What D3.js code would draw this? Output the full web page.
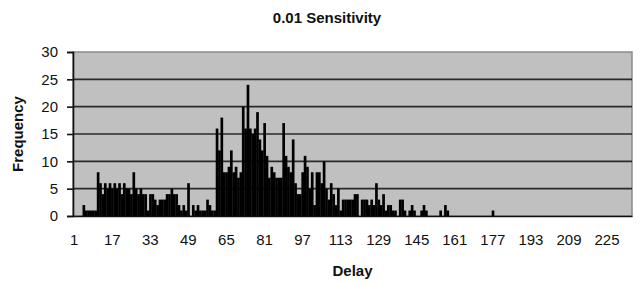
<!DOCTYPE html>
<html>
<head>
<meta charset="utf-8">
<script src="https://cdn.jsdelivr.net/npm/d3@7"></script>
<style>
  body { margin: 0; background: #fff; }
  text { font-family: "Liberation Sans", Arial, sans-serif; }
</style>
</head>
<body>
<div id="chart"></div>
<script>
var title = "0.01 Sensitivity"
var xTitle = "Delay"
var yTitle = "Frequency"
// delay buckets 1..235
var delays = d3.range(1, 236)
var frequency = [
  0, 0, 0, 0, 2, 1, 1, 1, 1, 1,
  8, 6, 4, 6, 5, 6, 5, 6, 5, 6,
  4, 6, 5, 5, 4, 8, 5, 4, 5, 4,
  4, 1, 4, 4, 3, 2, 3, 3, 3, 4,
  4, 5, 4, 4, 2, 1, 2, 1, 6, 0,
  2, 1, 2, 1, 1, 1, 3, 2, 1, 1,
  16, 12, 18, 8, 8, 9, 12, 8, 9, 7,
  8, 20, 16, 24, 16, 15, 16, 19, 14, 12,
  17, 11, 7, 9, 8, 7, 7, 7, 17, 11,
  9, 8, 14, 6, 4, 4, 8, 11, 9, 5,
  8, 2, 8, 8, 6, 10, 5, 3, 6, 4,
  2, 5, 1, 3, 3, 3, 3, 3, 4, 4,
  0, 3, 3, 3, 2, 3, 2, 6, 3, 2,
  4, 1, 2, 2, 1, 1, 0, 3, 3, 1,
  0, 1, 2, 1, 0, 0, 1, 2, 1, 0,
  0, 0, 0, 0, 1, 0, 2, 1, 0, 0,
  0, 0, 0, 0, 0, 0, 0, 0, 0, 0,
  0, 0, 0, 0, 0, 0, 1, 0, 0, 0,
  0, 0, 0, 0, 0, 0, 0, 0, 0, 0,
  0, 0, 0, 0, 0, 0, 0, 0, 0, 0,
  0, 0, 0, 0, 0, 0, 0, 0, 0, 0,
  0, 0, 0, 0, 0, 0, 0, 0, 0, 0,
  0, 0, 0, 0, 0, 0, 0, 0, 0, 0,
  0, 0, 0, 0, 0
]
var xTickLabels = [1, 17, 33, 49, 65, 81, 97, 113, 129, 145, 161, 177, 193, 209, 225]
var yTicks = [0, 5, 10, 15, 20, 25, 30]

var w = 643, h = 285
var margin = {top: 52, right: 11, bottom: 69, left: 73}
var width = w - margin.left - margin.right,
  height = h - margin.top - margin.bottom

var svg = d3.select("#chart").append("svg")
  .attr("width", w)
  .attr("height", h)

var g = svg.append("g")
  .attr("transform", "translate(" + margin.left + "," + margin.top + ")")

var xScale = d3.scaleBand()
  .domain(delays)
  .range([0, width])
  .padding(0)

var yScale = d3.scaleLinear()
  .domain([0, 30])
  .range([height, 0])

// plot area
g.append("rect")
  .attr("width", width)
  .attr("height", height)
  .attr("fill", "#c0c0c0")
  .attr("stroke", "#8a8a8a")
  .attr("stroke-width", 1.5)

// gridlines
g.selectAll(".grid")
  .data(yTicks.filter(function(d) { return d > 0 && d < 30 }))
  .enter().append("line")
  .attr("class", "grid")
  .attr("x1", 0)
  .attr("x2", width)
  .attr("y1", function(d) { return yScale(d) })
  .attr("y2", function(d) { return yScale(d) })
  .attr("stroke", "#2a2a2a")
  .attr("stroke-width", 1.6)

// bars
g.selectAll(".bar")
  .data(frequency)
  .enter().append("rect")
  .attr("class", "bar")
  .attr("x", function(d, i) { return xScale(delays[i]) })
  .attr("y", function(d) { return yScale(d) })
  .attr("width", xScale.bandwidth() + 0.3)
  .attr("height", function(d) { return height - yScale(d) })
  .attr("fill", "#000")

// y axis
var yAxis = d3.axisLeft(yScale)
  .tickValues(yTicks)
  .tickSize(6)
  .tickPadding(9)

var yG = g.append("g").call(yAxis)
yG.select(".domain").attr("stroke", "#111").attr("stroke-width", 1.6)
yG.selectAll(".tick line").attr("stroke", "#111").attr("stroke-width", 1.6)
yG.selectAll("text")
  .attr("font-size", 15)
  .attr("font-family", "Liberation Sans, Arial, sans-serif")
  .attr("fill", "#111")

// x axis
var xAxis = d3.axisBottom(xScale)
  .tickValues(xTickLabels)
  .tickSize(0)
  .tickPadding(18)

var xG = g.append("g")
  .attr("transform", "translate(0," + height + ")")
  .call(xAxis)
xG.select(".domain").attr("stroke", "#111").attr("stroke-width", 1.6)
xG.selectAll("text")
  .attr("font-size", 15)
  .attr("font-family", "Liberation Sans, Arial, sans-serif")
  .attr("fill", "#111")

// titles
svg.append("text")
  .attr("x", 327)
  .attr("y", 23)
  .attr("text-anchor", "middle")
  .attr("font-size", 15)
  .attr("font-weight", "bold")
  .attr("fill", "#111")
  .text(title)

svg.append("text")
  .attr("x", margin.left + width / 2)
  .attr("y", 276)
  .attr("text-anchor", "middle")
  .attr("font-size", 15)
  .attr("font-weight", "bold")
  .attr("fill", "#111")
  .text(xTitle)

svg.append("text")
  .attr("transform", "translate(23," + (margin.top + height / 2) + ") rotate(-90)")
  .attr("text-anchor", "middle")
  .attr("font-size", 15)
  .attr("font-weight", "bold")
  .attr("fill", "#111")
  .text(yTitle)
</script>
</body>
</html>
